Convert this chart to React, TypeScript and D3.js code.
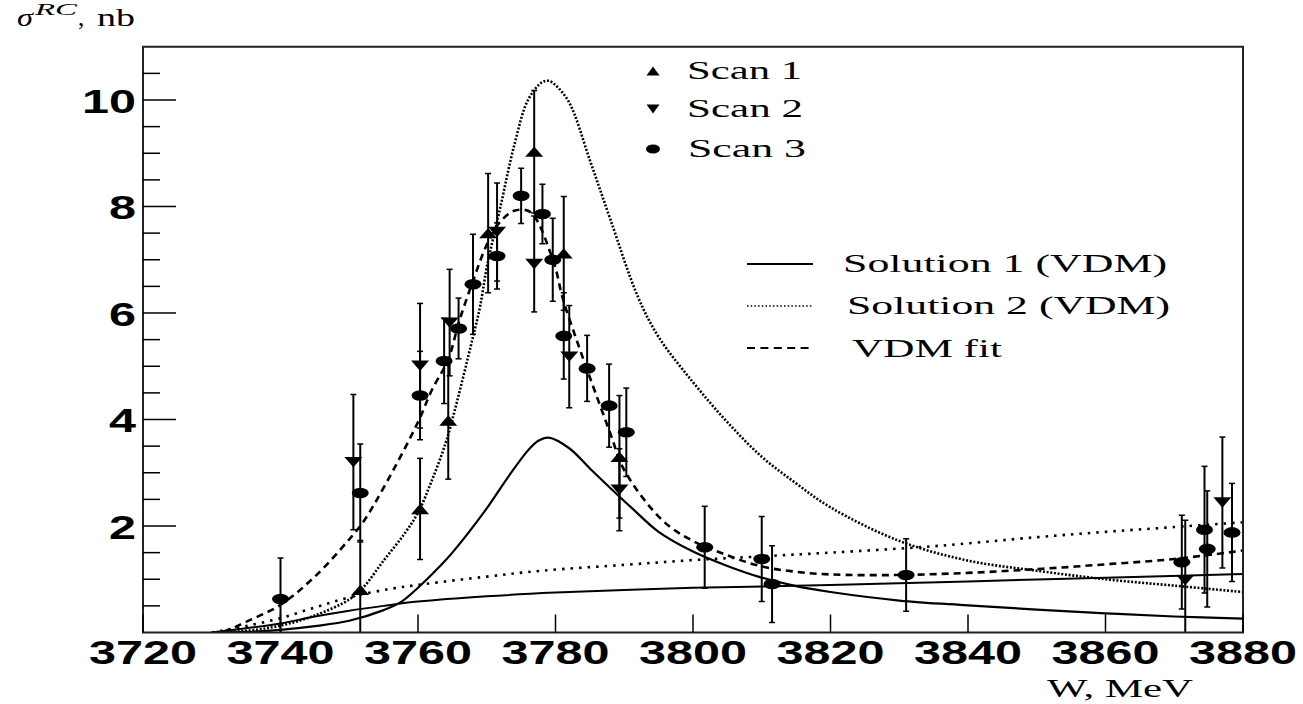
import React from "react";
import * as d3 from "d3";

const scan1W = [3751.6, 3760.3, 3764.4, 3770.2, 3776.9, 3781.2, 3789.3];
const scan1V = [0.8, 2.32, 3.98, 7.5, 9.03, 7.12, 3.3];
const scan1E = [0.93, 0.95, 1.1, 1.12, 1.15, 1.07, 1.15];

const scan2W = [3750.6, 3760.3, 3764.6, 3771.5, 3776.9, 3782.0, 3789.3, 3871.6, 3877.0];
const scan2V = [3.2, 5.01, 5.82, 7.52, 6.92, 5.18, 2.68, 0.98, 2.44];
const scan2E = [1.27, 1.17, 1.0, 0.92, 0.9, 0.96, 0.77, 1.13, 1.23];

const scan3W = [3740.0, 3751.6, 3760.3, 3763.8, 3765.9, 3768.0, 3771.5, 3775.0, 3778.1, 3779.6, 3781.2, 3784.6, 3787.8, 3790.3, 3801.7, 3810.0, 3811.5, 3831.0, 3871.1, 3874.4, 3874.8, 3878.4];
const scan3V = [0.63, 2.62, 4.45, 5.1, 5.71, 6.54, 7.07, 8.2, 7.86, 7.0, 5.57, 4.96, 4.26, 3.76, 1.6, 1.38, 0.91, 1.08, 1.32, 1.93, 1.57, 1.88];
const scan3E = [0.77, 0.92, 0.83, 0.8, 0.57, 0.94, 0.62, 0.52, 0.56, 0.78, 0.81, 0.62, 0.78, 0.83, 0.77, 0.8, 0.72, 0.68, 0.88, 1.19, 1.09, 0.92];

// curves
const sol1ResW = [3730, 3735, 3740, 3745, 3750, 3755, 3757.5, 3760, 3763, 3765, 3770, 3773, 3776, 3777.5, 3779, 3782, 3785, 3788, 3791, 3795, 3800, 3805, 3810, 3815, 3820, 3830, 3840, 3850, 3860, 3870, 3880];
const sol1ResV = [0, 0.01, 0.05, 0.12, 0.22, 0.42, 0.57, 0.84, 1.22, 1.5, 2.33, 2.9, 3.42, 3.6, 3.66, 3.46, 3.08, 2.71, 2.35, 1.89, 1.52, 1.25, 1.03, 0.87, 0.76, 0.6, 0.51, 0.43, 0.36, 0.3, 0.26];

const sol1BgW = [3730, 3735, 3740, 3745, 3750, 3755, 3760, 3770, 3780, 3790, 3800, 3820, 3840, 3860, 3880];
const sol1BgV = [0, 0.08, 0.17, 0.3, 0.41, 0.5, 0.58, 0.68, 0.75, 0.8, 0.84, 0.89, 0.96, 1.03, 1.1];

const sol2ResW = [3730, 3735, 3740, 3745, 3750, 3752, 3755, 3758, 3760, 3762, 3764, 3765, 3768, 3769, 3770, 3772, 3774, 3776, 3778, 3779, 3780, 3782, 3785, 3788, 3792, 3795, 3800, 3805, 3810, 3815, 3820, 3830, 3840, 3850, 3860, 3870, 3880];
const sol2ResV = [0, 0.03, 0.13, 0.32, 0.62, 0.84, 1.35, 1.85, 2.25, 2.85, 3.55, 4.0, 5.55, 6.1, 6.85, 8.0, 9.15, 10.0, 10.33, 10.36, 10.28, 9.95, 8.87, 7.75, 6.3, 5.55, 4.7, 3.95, 3.3, 2.8, 2.35, 1.72, 1.35, 1.16, 1.0, 0.88, 0.76];

const sol2BgW = [3730, 3735, 3740, 3745, 3750, 3756, 3761, 3770, 3778, 3790, 3800, 3810, 3820, 3835, 3850, 3860, 3870, 3880];
const sol2BgV = [0, 0.12, 0.27, 0.47, 0.66, 0.82, 0.91, 1.05, 1.16, 1.27, 1.36, 1.43, 1.5, 1.62, 1.79, 1.89, 1.98, 2.07];

const fitW = [3730, 3732, 3735, 3740, 3745, 3750, 3752, 3755, 3760, 3762, 3764.4, 3766, 3768, 3770, 3772, 3774, 3776, 3777, 3778, 3779, 3780, 3781, 3783, 3785, 3788, 3790, 3795.6, 3800, 3805, 3810, 3815, 3820, 3830, 3840, 3850, 3860, 3870, 3880];
const fitV = [0, 0.03, 0.2, 0.52, 1.05, 1.75, 2.07, 2.72, 3.95, 4.55, 5.13, 5.85, 6.6, 7.28, 7.72, 7.92, 7.92, 7.8, 7.56, 7.22, 6.85, 6.3, 5.52, 4.79, 3.73, 3.05, 2.1, 1.72, 1.45, 1.24, 1.14, 1.09, 1.08, 1.12, 1.19, 1.28, 1.38, 1.54];

const xTicks = [3720, 3740, 3760, 3780, 3800, 3820, 3840, 3860, 3880];
const yTicks = [2, 4, 6, 8, 10];

const W = 1303;
const H = 704;

const x = d3.scaleLinear().domain([3720, 3880]).range([143, 1243]);
const y = d3.scaleLinear().domain([0, 11]).range([632.5, 46.75]);

const pts = (ws: number[], vs: number[]) => ws.map((w, i) => [w, vs[i]] as [number, number]);

const line = d3
  .line<[number, number]>()
  .x((d) => x(d[0]))
  .y((d) => y(d[1]))
  .curve(d3.curveCatmullRom.alpha(0.5));

const tri = (cx: number, cy: number, up: boolean, w = 9, h = 5.2) =>
  up
    ? `M${cx - w},${cy + h}L${cx + w},${cy + h}L${cx},${cy - h}Z`
    : `M${cx - w},${cy - h}L${cx + w},${cy - h}L${cx},${cy + h}Z`;

const serif = "'Liberation Serif', 'DejaVu Serif', serif";
const sans = "'Liberation Sans', Arial, sans-serif";

const ErrBars = ({ ws, vs, es }: { ws: number[]; vs: number[]; es: number[] }) => (
  <g stroke="#000" strokeWidth={2}>
    {ws.map((w, i) => {
      const cx = x(w);
      const y1 = y(vs[i] + es[i]);
      const y2 = y(vs[i] - es[i]);
      return (
        <g key={i}>
          <line x1={cx} x2={cx} y1={y1} y2={y2} />
          <line x1={cx - 3} x2={cx + 3} y1={y1} y2={y1} strokeWidth={1.5} />
          <line x1={cx - 3} x2={cx + 3} y1={y2} y2={y2} strokeWidth={1.5} />
        </g>
      );
    })}
  </g>
);

export default function App() {
  const minorY = d3.range(0.5, 11, 0.5).filter((v) => v % 2 !== 0);
  return (
    <svg width={W} height={H} style={{ position: "absolute", left: 0, top: 0, background: "#fff" }}>
      <defs>
        <clipPath id="plot">
          <rect x={143} y={46.75} width={1100} height={585.75} />
        </clipPath>
      </defs>

      {/* curves */}
      <g clipPath="url(#plot)" fill="none" stroke="#000">
        <path d={line(pts(sol1BgW, sol1BgV)) || ""} strokeWidth={2} />
        <path d={line(pts(sol1ResW, sol1ResV)) || ""} strokeWidth={2.2} />
        <path d={line(pts(sol2BgW, sol2BgV)) || ""} strokeWidth={2.6} strokeDasharray="2.5 6" />
        <path d={line(pts(sol2ResW, sol2ResV)) || ""} strokeWidth={2.6} strokeDasharray="2 1.7" />
        <path d={line(pts(fitW, fitV)) || ""} strokeWidth={2.6} strokeDasharray="7 5" />
      </g>

      {/* data */}
      <g clipPath="url(#plot)">
        <ErrBars ws={scan1W} vs={scan1V} es={scan1E} />
        <ErrBars ws={scan2W} vs={scan2V} es={scan2E} />
        <ErrBars ws={scan3W} vs={scan3V} es={scan3E} />
        {scan1W.map((w, i) => (
          <path key={"a" + i} d={tri(x(w), y(scan1V[i]), true)} fill="#000" />
        ))}
        {scan2W.map((w, i) => (
          <path key={"b" + i} d={tri(x(w), y(scan2V[i]), false)} fill="#000" />
        ))}
        {scan3W.map((w, i) => (
          <ellipse key={"c" + i} cx={x(w)} cy={y(scan3V[i])} rx={8.5} ry={5.3} fill="#000" />
        ))}
      </g>

      {/* frame and ticks */}
      <rect x={143} y={46.75} width={1100} height={585.75} fill="none" stroke="#222" strokeWidth={2} />
      <g stroke="#000" strokeWidth={1.5}>
        {yTicks.map((v) => (
          <line key={v} x1={143} x2={176} y1={y(v)} y2={y(v)} />
        ))}
        {minorY.map((v) => (
          <line key={"m" + v} x1={143} x2={160} y1={y(v)} y2={y(v)} />
        ))}
        {xTicks.map((v) => (
          <line key={v} x1={x(v)} x2={x(v)} y1={632.5} y2={614.5} />
        ))}
      </g>

      {/* tick labels */}
      <g fontFamily={sans} fontWeight="bold" fontSize={33} fill="#000">
        {xTicks.map((v) => (
          <text key={v} x={x(v) - 54} y={664} textLength={108} lengthAdjust="spacingAndGlyphs">
            {v}
          </text>
        ))}
        {yTicks.map((v) => {
          const len = String(v).length * 27;
          return (
            <text key={v} x={136 - len} y={y(v) + 12.5} textLength={len} lengthAdjust="spacingAndGlyphs">
              {v}
            </text>
          );
        })}
      </g>

      {/* axis titles */}
      <g fontFamily={serif} fill="#000">
        <text x={17} y={26} fontSize={25} fontStyle="italic" textLength={16} lengthAdjust="spacingAndGlyphs">σ</text>
        <text x={35} y={15} fontSize={17} fontStyle="italic" textLength={42} lengthAdjust="spacingAndGlyphs">RC</text>
        <text x={78} y={26} fontSize={25}>,</text>
        <text x={97} y={26} fontSize={25} textLength={38} lengthAdjust="spacingAndGlyphs">nb</text>
        <text x={1047} y={697} fontSize={25} textLength={146} lengthAdjust="spacingAndGlyphs">W, MeV</text>
      </g>

      {/* legend: scans */}
      <g fontFamily={serif} fontSize={25} fill="#000">
        <path d={tri(653, 71, true, 6.5, 4.5)} />
        <text x={687} y={79} textLength={115} lengthAdjust="spacingAndGlyphs">Scan 1</text>
        <path d={tri(653, 109, false, 6.5, 4.5)} />
        <text x={687} y={117} textLength={116} lengthAdjust="spacingAndGlyphs">Scan 2</text>
        <ellipse cx={653} cy={149} rx={7} ry={4.6} />
        <text x={688} y={157} textLength={118} lengthAdjust="spacingAndGlyphs">Scan 3</text>
      </g>

      {/* legend: curves */}
      <g fill="none" stroke="#000">
        <line x1={747} x2={813} y1={264} y2={264} strokeWidth={2} />
        <line x1={747} x2={813} y1={306} y2={306} strokeWidth={1.6} strokeDasharray="1.5 2.2" />
        <line x1={747} x2={813} y1={348} y2={348} strokeWidth={2} strokeDasharray="8 5.4" />
      </g>
      <g fontFamily={serif} fontSize={25} fill="#000">
        <text x={843} y={272} textLength={324} lengthAdjust="spacingAndGlyphs">Solution 1 (VDM)</text>
        <text x={847} y={314} textLength={323} lengthAdjust="spacingAndGlyphs">Solution 2 (VDM)</text>
        <text x={852} y={357} textLength={150} lengthAdjust="spacingAndGlyphs">VDM fit</text>
      </g>
    </svg>
  );
}
